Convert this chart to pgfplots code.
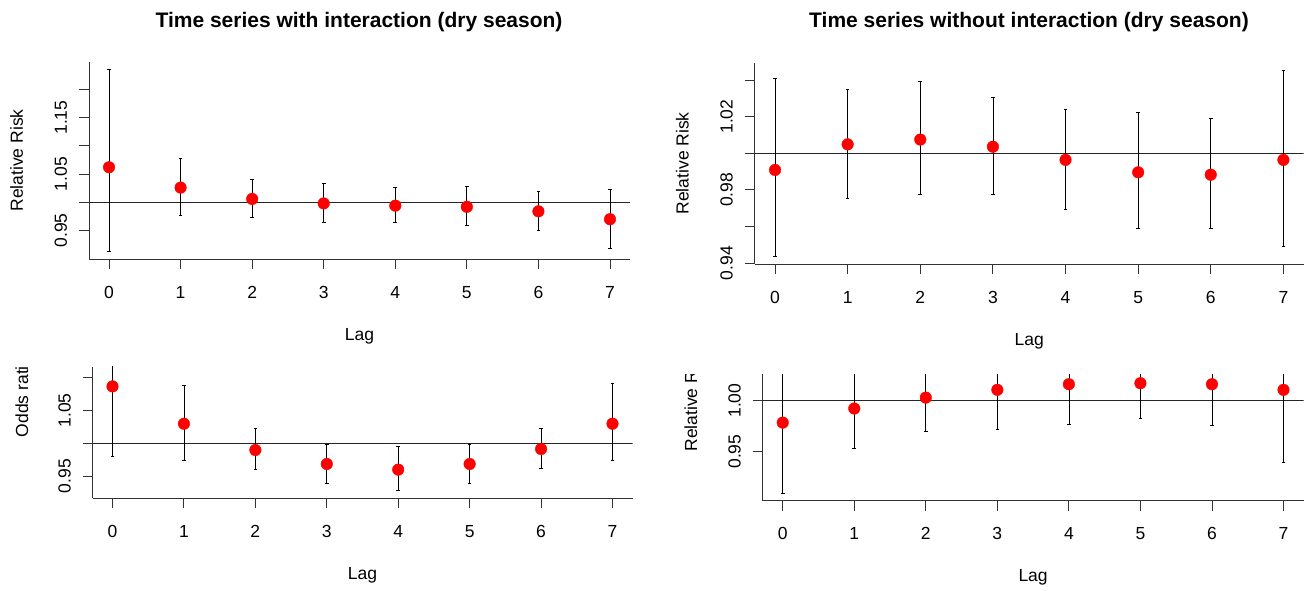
\documentclass[border=0pt]{standalone}
\usepackage{fontspec}
\setmainfont{Liberation Sans}
\usepackage{pgfplots}
\usepackage{pgfplotstable}
\pgfplotsset{compat=1.18}

\newcommand\fs{\fontsize{17.5}{20}\selectfont}
\newcommand\tfs{\fontsize{21}{25}\selectfont\bfseries}

\pgfplotstableread{
x y lo hi
0 1.062 0.913 1.236
1 1.026 0.976 1.078
2 1.006 0.973 1.041
3 0.998 0.965 1.034
4 0.994 0.965 1.027
5 0.992 0.959 1.028
6 0.984 0.951 1.019
7 0.970 0.919 1.022
}\tA
\pgfplotstableread{
x y lo hi
0 0.9909 0.9436 1.0411
1 1.0049 0.9755 1.0352
2 1.0075 0.9774 1.0394
3 1.0036 0.9774 1.0307
4 0.9964 0.9693 1.0241
5 0.9896 0.9589 1.0223
6 0.9883 0.9589 1.0192
7 0.9964 0.9491 1.0454
}\tB
\pgfplotstableread{
x y lo hi
0 1.0868 0.9807 1.2045
1 1.0299 0.9736 1.0888
2 0.9898 0.9604 1.0223
3 0.9685 0.9386 0.9985
4 0.9599 0.9284 0.9959
5 0.9685 0.9386 0.9985
6 0.9914 0.9619 1.0223
7 1.0299 0.9736 1.0909
}\tC
\pgfplotstableread{
x y lo hi
0 0.9784 0.9092 1.0529
1 0.9922 0.9536 1.0324
2 1.0029 0.9699 1.0370
3 1.0105 0.9719 1.0506
4 1.0160 0.9765 1.0571
5 1.0170 0.9827 1.0525
6 1.0160 0.9755 1.0582
7 1.0105 0.9395 1.0869
}\tD

\pgfplotsset{
  rstyle/.style={
    scale only axis,
    axis lines*=left,
    axis line style={-, black!80, line width=0.9pt},
    tick align=outside,
    major tick length=10pt,
    tick style={black!80, line width=0.9pt},
    xmin=-0.28, xmax=7.28,
    xtick={0,1,2,3,4,5,6,7},
    xticklabels={0,1,2,3,4,5,6,7},
    ticklabel style={font=\fs},
    xticklabel style={anchor=base},
    xticklabel shift=29pt,
    yticklabel style={rotate=90, anchor=base},
    yticklabel shift=12pt,
    xlabel={Lag},
    every axis x label/.style={at={(axis description cs:0.5,0)}, anchor=base, yshift=-81pt, font=\fs},
    every axis y label/.style={at={([xshift=-66pt]axis description cs:0,0.5)}, rotate=90, anchor=base, font=\fs},
    clip=true,
  },
  ebars/.style={only marks, mark=none,
    error bars/.cd, y dir=both, y explicit,
    error bar style={draw=black, solid, line width=0.75pt},
    error mark options={rotate=90, mark size=1.8pt, line width=0.75pt, draw=black}},
  pts/.style={only marks, mark=*, mark size=5.8pt, color=red, mark options={fill=red, draw=red}},
}

\begin{document}
\begin{tikzpicture}[x=1pt,y=1pt]
\useasboundingbox (0,0) rectangle (1314,-590);

\node[font=\tfs, anchor=base] at (359,-27.7) {Time series with interaction (dry season)};
\node[font=\tfs, anchor=base] at (1029,-27.7) {Time series without interaction (dry season)};

% Panel 1
\begin{axis}[rstyle, at={(89pt,-259.3pt)}, anchor=south west, width=541pt, height=197.6pt,
  ymin=0.899, ymax=1.249,
  ytick={0.95,1,1.05,1.1,1.15,1.2}, yticklabels={0.95,,1.05,,1.15,},
  ylabel={Relative Risk}]
\addplot[black!85, line width=0.9pt] coordinates {(-0.28,1) (7.28,1)};
\addplot[ebars] table[x=x, y=y, y error plus expr=\thisrow{hi}-\thisrow{y}, y error minus expr=\thisrow{y}-\thisrow{lo}] {\tA};
\addplot[pts] table[x=x, y=y] {\tA};
\end{axis}

% Panel 2
\begin{axis}[rstyle, at={(754.7pt,-264pt)}, anchor=south west, width=549pt, height=201.3pt,
  ymin=0.9395, ymax=1.0495,
  ytick={0.94,0.96,0.98,1,1.02,1.04}, yticklabels={0.94,,0.98,,1.02,},
  ylabel={Relative Risk}]
\addplot[black!85, line width=0.9pt] coordinates {(-0.28,1) (7.28,1)};
\addplot[ebars] table[x=x, y=y, y error plus expr=\thisrow{hi}-\thisrow{y}, y error minus expr=\thisrow{y}-\thisrow{lo}] {\tB};
\addplot[pts] table[x=x, y=y] {\tB};
\end{axis}

% Panel 3
\begin{axis}[rstyle, at={(92.5pt,-498.3pt)}, anchor=south west, width=540pt, height=131.6pt,
  ymin=0.9162, ymax=1.1168,
  ytick={0.95,1,1.05,1.1}, yticklabels={0.95,,1.05,}]
\addplot[black!85, line width=0.9pt] coordinates {(-0.28,1) (7.28,1)};
\addplot[ebars] table[x=x, y=y, y error plus expr=\thisrow{hi}-\thisrow{y}, y error minus expr=\thisrow{y}-\thisrow{lo}] {\tC};
\addplot[pts] table[x=x, y=y] {\tC};
\end{axis}
\begin{scope}
\clip (0,-366.7) rectangle (660,-590);
\node[font=\fs, rotate=90, anchor=base] at (28,-396.8) {Odds ratio};
\end{scope}

% Panel 4
\begin{axis}[rstyle, at={(762.7pt,-500.7pt)}, anchor=south west, width=540.8pt, height=126.7pt,
  ymin=0.902, ymax=1.026,
  ytick={0.95,1}, yticklabels={0.95,1.00}]
\addplot[black!85, line width=0.9pt] coordinates {(-0.28,1) (7.28,1)};
\addplot[ebars] table[x=x, y=y, y error plus expr=\thisrow{hi}-\thisrow{y}, y error minus expr=\thisrow{y}-\thisrow{lo}] {\tD};
\addplot[pts] table[x=x, y=y] {\tD};
\end{axis}
\begin{scope}
\clip (660,-374) rectangle (1314,-590);
\node[font=\fs, rotate=90, anchor=base] at (697,-400.5) {Relative Risk};
\end{scope}
\end{tikzpicture}
\end{document}
